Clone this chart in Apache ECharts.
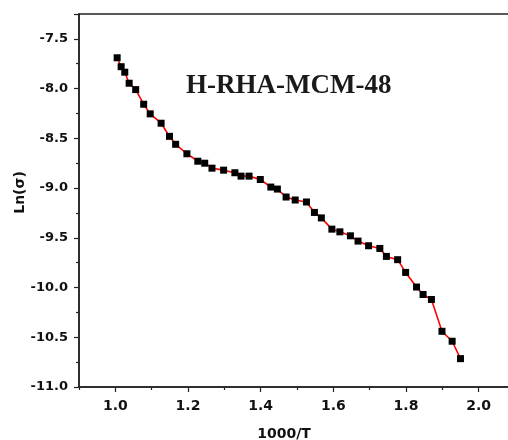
<!DOCTYPE html>
<html><head><meta charset="utf-8">
<script src="https://cdn.jsdelivr.net/npm/echarts@6/dist/echarts.min.js"></script>
<style>html,body{margin:0;padding:0;background:#fff}#c{width:508px;height:440px}</style>
</head><body><div id="c"></div>
<script>
const xValues = [1.005,1.016,1.026,1.038,1.056,1.078,1.096,1.126,1.149,1.166,1.197,1.227,1.246,1.266,1.298,1.329,1.346,1.368,1.399,1.428,1.446,1.470,1.495,1.526,1.548,1.567,1.596,1.618,1.647,1.668,1.697,1.728,1.746,1.777,1.799,1.829,1.847,1.870,1.899,1.927,1.950];
const lnSigma = [-7.69,-7.78,-7.835,-7.946,-8.01,-8.157,-8.254,-8.348,-8.48,-8.56,-8.655,-8.73,-8.75,-8.80,-8.82,-8.846,-8.88,-8.88,-8.914,-8.99,-9.01,-9.09,-9.12,-9.14,-9.245,-9.30,-9.413,-9.44,-9.48,-9.533,-9.58,-9.607,-9.687,-9.72,-9.848,-9.995,-10.07,-10.12,-10.44,-10.54,-10.715];
const xTicks = [1.0,1.2,1.4,1.6,1.8,2.0];
const xMinorTicks = [0.9,1.1,1.3,1.5,1.7,1.9];
const yTicks = [-11.0,-10.5,-10.0,-9.5,-9.0,-8.5,-8.0,-7.5];
const chartTitle = 'H-RHA-MCM-48';
const xName = '1000/T';
const yName = 'Ln(σ)';

const chart = echarts.init(document.getElementById('c'), null, {renderer:'canvas'});
const axisCol = '#222';
const lbl = {fontFamily:'DejaVu Sans',fontWeight:'bold',color:'#111'};
chart.setOption({
  animation:false,
  backgroundColor:'#fff',
  title:{text:chartTitle,left:181,top:68,textStyle:{fontFamily:'Liberation Serif',fontWeight:'bold',fontSize:27,color:'#1a1a1a'}},
  grid:{left:79,top:14,bottom:53,right:-7,show:true,borderColor:axisCol,borderWidth:1.5,containLabel:false,outerBoundsMode:'none'},
  xAxis:[{type:'value',min:0.9,max:2.1,name:xName,nameLocation:'middle',nameGap:40,nameMoveOverlap:false,
    nameTextStyle:Object.assign({fontSize:14,padding:[0,26,0,0]},lbl),
    axisLine:{lineStyle:{color:axisCol,width:1.5}},
    axisTick:{inside:false,length:5,customValues:xTicks,lineStyle:{color:axisCol,width:1.2}},
    splitLine:{show:false},
    axisLabel:Object.assign({margin:12,fontSize:14,customValues:xTicks,formatter:v=>v.toFixed(1)},lbl)},
   {type:'value',position:'bottom',min:0.9,max:2.1,
    axisLine:{show:false},
    axisTick:{inside:false,length:3,customValues:xMinorTicks,lineStyle:{color:axisCol,width:1.2}},
    axisLabel:{show:false},splitLine:{show:false}}],
  yAxis:{type:'value',min:-11,max:-7.25,interval:0.5,name:yName,nameLocation:'middle',nameGap:52,nameRotate:90,nameMoveOverlap:false,
    nameTextStyle:Object.assign({fontSize:14,padding:[0,0,0,16]},lbl),
    axisLine:{lineStyle:{color:axisCol,width:1.5}},
    axisTick:{inside:false,length:5,lineStyle:{color:axisCol,width:1.2}},
    minorTick:{show:true,splitNumber:2,length:3,lineStyle:{color:axisCol,width:1.2}},
    splitLine:{show:false},minorSplitLine:{show:false},
    axisLabel:Object.assign({margin:11,fontSize:13,customValues:yTicks,formatter:v=>v.toFixed(1)},lbl)},
  series:[{type:'line',xAxisIndex:0,data:xValues.map((x,i)=>[x,lnSigma[i]]),symbol:'rect',symbolSize:7,
    itemStyle:{color:'#000'},lineStyle:{color:'#ff0000',width:1.6},z:3}]
});
</script></body></html>
